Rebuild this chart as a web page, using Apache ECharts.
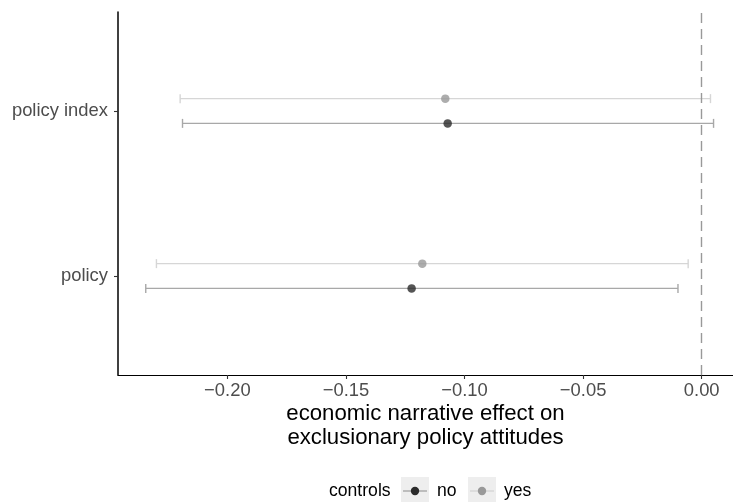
<!DOCTYPE html>
<html>
<head>
<meta charset="utf-8">
<script src="https://cdn.jsdelivr.net/npm/echarts@6/dist/echarts.min.js"></script>
<style>
  html, body { margin: 0; padding: 0; background: #fff; }
  #main { width: 733px; height: 502px; }
</style>
</head>
<body>
<div id="main"></div>
<script>
// categories bottom -> top (ggplot order)
var categories = ['policy', 'policy index'];
var groups = ['no', 'yes'];

// estimates and confidence bounds
var estNo = [-0.1223, -0.1071];
var lowNo = [-0.2344, -0.2189];
var highNo = [-0.0100, 0.0050];

var estYes = [-0.1178, -0.1081];
var lowYes = [-0.2299, -0.2199];
var highYes = [-0.0057, 0.0037];

var xTicks = [-0.2, -0.15, -0.1, -0.05, 0];
var dodge = 0.075;

var FONT = 'Liberation Sans, Arial, Helvetica, sans-serif';
var pointCol = { no: '#2b2b2b', yes: '#999999' };
var barCol = { no: '#a8a8a8', yes: '#d6d6d6' };

function errData(low, high, off) {
  return categories.map(function (c, i) { return [i + 1 + off, low[i], high[i]]; });
}
function ptData(est, off) {
  return categories.map(function (c, i) { return [est[i], i + 1 + off]; });
}

function renderBar(params, api) {
  var y = api.value(0);
  var a = api.coord([api.value(1), y]);
  var b = api.coord([api.value(2), y]);
  var cap = 4.5;
  var style = { stroke: api.visual('color'), lineWidth: 1.4, fill: null };
  return {
    type: 'group',
    children: [
      { type: 'line', shape: { x1: a[0], y1: a[1], x2: b[0], y2: b[1] }, style: style },
      { type: 'line', shape: { x1: a[0], y1: a[1] - cap, x2: a[0], y2: a[1] + cap }, style: style },
      { type: 'line', shape: { x1: b[0], y1: b[1] - cap, x2: b[0], y2: b[1] + cap }, style: style }
    ]
  };
}

var chart = echarts.init(document.getElementById('main'));

var option = {
  animation: false,
  grid: { left: 118, right: 0, top: 12, bottom: 127, containLabel: false },
  xAxis: {
    type: 'value',
    min: -0.2461,
    max: 0.0132,
    splitLine: { show: false },
    axisLine: { onZero: false, lineStyle: { color: '#000', width: 1.2 } },
    axisTick: { customValues: xTicks, length: 4, lineStyle: { color: '#333', width: 1.1 } },
    axisLabel: {
      customValues: xTicks,
      margin: 7,
      color: '#4d4d4d',
      fontSize: 18.4,
      fontFamily: FONT,
      formatter: function (v) {
        var s = Math.abs(v).toFixed(2);
        return v < -1e-9 ? '\u2212' + s : s;
      }
    },
    name: 'economic narrative effect on\nexclusionary policy attitudes',
    nameLocation: 'middle',
    nameMoveOverlap: false,
    nameGap: 27,
    nameTextStyle: { color: '#000', fontSize: 22.2, fontFamily: FONT, lineHeight: 24, verticalAlign: 'top' }
  },
  yAxis: {
    type: 'value',
    min: 0.4,
    max: 2.6,
    splitLine: { show: false },
    axisLine: { show: true, onZero: false, lineStyle: { color: '#000', width: 1.5 } },
    axisTick: { show: true, customValues: [1, 2], length: 4, lineStyle: { color: '#333', width: 1.1 } },
    axisLabel: {
      customValues: [1, 2],
      margin: 10,
      color: '#4d4d4d',
      fontSize: 18.4,
      fontFamily: FONT,
      formatter: function (v) { return categories[Math.round(v) - 1]; }
    }
  },
  series: [
    {
      name: 'no bars', type: 'custom', renderItem: renderBar,
      itemStyle: { color: barCol.no },
      encode: { x: [1, 2], y: 0 },
      data: errData(lowNo, highNo, -dodge),
      markLine: {
        silent: true,
        symbol: ['none', 'none'],
        label: { show: false },
        lineStyle: { color: '#999', type: [10, 6], width: 1.4 },
        data: [{ xAxis: 0 }]
      },
      z: 2
    },
    {
      name: 'yes bars', type: 'custom', renderItem: renderBar,
      itemStyle: { color: barCol.yes },
      encode: { x: [1, 2], y: 0 },
      data: errData(lowYes, highYes, dodge),
      z: 2
    },
    {
      name: 'no', type: 'scatter', symbolSize: 8.5,
      itemStyle: { color: pointCol.no },
      data: ptData(estNo, -dodge), z: 3
    },
    {
      name: 'yes', type: 'scatter', symbolSize: 8.5,
      itemStyle: { color: pointCol.yes },
      data: ptData(estYes, dodge), z: 3
    }
  ],
  graphic: [
    { type: 'text', left: 329, top: 482, style: { text: 'controls', fill: '#000', font: '17.6px ' + FONT } },
    { type: 'rect', shape: { x: 401, y: 477, width: 28, height: 28 }, style: { fill: '#eeeeee' } },
    { type: 'line', shape: { x1: 403, y1: 491, x2: 427, y2: 491 }, style: { stroke: barCol.no, lineWidth: 1.4 } },
    { type: 'circle', shape: { cx: 415, cy: 491, r: 4.2 }, style: { fill: pointCol.no } },
    { type: 'text', left: 437, top: 482, style: { text: 'no', fill: '#000', font: '17.6px ' + FONT } },
    { type: 'rect', shape: { x: 468, y: 477, width: 28, height: 28 }, style: { fill: '#eeeeee' } },
    { type: 'line', shape: { x1: 470, y1: 491, x2: 494, y2: 491 }, style: { stroke: barCol.yes, lineWidth: 1.4 } },
    { type: 'circle', shape: { cx: 482, cy: 491, r: 4.2 }, style: { fill: pointCol.yes } },
    { type: 'text', left: 504, top: 482, style: { text: 'yes', fill: '#000', font: '17.6px ' + FONT } }
  ]
};

chart.setOption(option);
</script>
</body>
</html>
